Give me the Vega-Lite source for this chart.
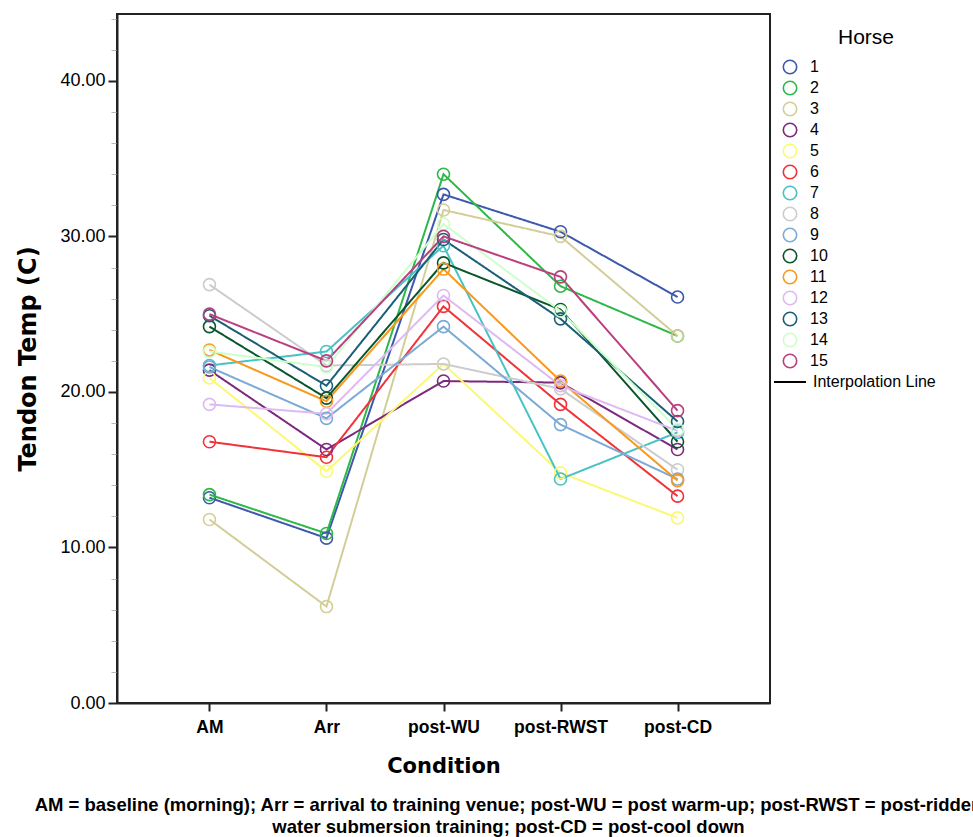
{
  "$schema": "https://vega.github.io/schema/vega-lite/v6.json",
  "width": 653,
  "height": 689,
  "autosize": "none",
  "padding": {"left": 117, "top": 14, "right": 203, "bottom": 134},
  "background": "white",
  "config": {
    "font": "Liberation Sans",
    "view": {"stroke": "#222222", "strokeWidth": 2},
    "axis": {"domainColor": "#222222", "domainWidth": 2, "tickColor": "#222222", "labelColor": "black", "titleColor": "black", "grid": false}
  },
  "title": {
    "text": ["AM = baseline (morning); Arr = arrival to training venue; post-WU = post warm-up; post-RWST = post-ridden", "water submersion training; post-CD = post-cool down"],
    "orient": "bottom",
    "anchor": "middle",
    "frame": "group",
    "font": "Liberation Sans",
    "fontSize": 18.5,
    "fontWeight": "bold",
    "color": "black",
    "dx": 65,
    "offset": 19,
    "lineHeight": 22
  },
  "data": {
    "values": [
      {"horse": "1", "condition": "AM", "temp": 13.2}, {"horse": "1", "condition": "Arr", "temp": 10.6}, {"horse": "1", "condition": "post-WU", "temp": 32.7}, {"horse": "1", "condition": "post-RWST", "temp": 30.3}, {"horse": "1", "condition": "post-CD", "temp": 26.1},
      {"horse": "2", "condition": "AM", "temp": 13.4}, {"horse": "2", "condition": "Arr", "temp": 10.9}, {"horse": "2", "condition": "post-WU", "temp": 34.0}, {"horse": "2", "condition": "post-RWST", "temp": 26.8}, {"horse": "2", "condition": "post-CD", "temp": 23.6},
      {"horse": "3", "condition": "AM", "temp": 11.8}, {"horse": "3", "condition": "Arr", "temp": 6.2}, {"horse": "3", "condition": "post-WU", "temp": 31.7}, {"horse": "3", "condition": "post-RWST", "temp": 30.0}, {"horse": "3", "condition": "post-CD", "temp": 23.6},
      {"horse": "4", "condition": "AM", "temp": 21.4}, {"horse": "4", "condition": "Arr", "temp": 16.3}, {"horse": "4", "condition": "post-WU", "temp": 20.7}, {"horse": "4", "condition": "post-RWST", "temp": 20.6}, {"horse": "4", "condition": "post-CD", "temp": 16.3},
      {"horse": "5", "condition": "AM", "temp": 20.9}, {"horse": "5", "condition": "Arr", "temp": 14.9}, {"horse": "5", "condition": "post-WU", "temp": 21.8}, {"horse": "5", "condition": "post-RWST", "temp": 14.8}, {"horse": "5", "condition": "post-CD", "temp": 11.9},
      {"horse": "6", "condition": "AM", "temp": 16.8}, {"horse": "6", "condition": "Arr", "temp": 15.8}, {"horse": "6", "condition": "post-WU", "temp": 25.5}, {"horse": "6", "condition": "post-RWST", "temp": 19.2}, {"horse": "6", "condition": "post-CD", "temp": 13.3},
      {"horse": "7", "condition": "AM", "temp": 21.7}, {"horse": "7", "condition": "Arr", "temp": 22.6}, {"horse": "7", "condition": "post-WU", "temp": 29.4}, {"horse": "7", "condition": "post-RWST", "temp": 14.4}, {"horse": "7", "condition": "post-CD", "temp": 17.4},
      {"horse": "8", "condition": "AM", "temp": 26.9}, {"horse": "8", "condition": "Arr", "temp": 21.7}, {"horse": "8", "condition": "post-WU", "temp": 21.8}, {"horse": "8", "condition": "post-RWST", "temp": 20.2}, {"horse": "8", "condition": "post-CD", "temp": 15.0},
      {"horse": "9", "condition": "AM", "temp": 21.6}, {"horse": "9", "condition": "Arr", "temp": 18.3}, {"horse": "9", "condition": "post-WU", "temp": 24.2}, {"horse": "9", "condition": "post-RWST", "temp": 17.9}, {"horse": "9", "condition": "post-CD", "temp": 14.4},
      {"horse": "10", "condition": "AM", "temp": 24.2}, {"horse": "10", "condition": "Arr", "temp": 19.6}, {"horse": "10", "condition": "post-WU", "temp": 28.3}, {"horse": "10", "condition": "post-RWST", "temp": 25.3}, {"horse": "10", "condition": "post-CD", "temp": 16.8},
      {"horse": "11", "condition": "AM", "temp": 22.7}, {"horse": "11", "condition": "Arr", "temp": 19.4}, {"horse": "11", "condition": "post-WU", "temp": 27.9}, {"horse": "11", "condition": "post-RWST", "temp": 20.7}, {"horse": "11", "condition": "post-CD", "temp": 14.3},
      {"horse": "12", "condition": "AM", "temp": 19.2}, {"horse": "12", "condition": "Arr", "temp": 18.6}, {"horse": "12", "condition": "post-WU", "temp": 26.2}, {"horse": "12", "condition": "post-RWST", "temp": 20.4}, {"horse": "12", "condition": "post-CD", "temp": 17.5},
      {"horse": "13", "condition": "AM", "temp": 24.9}, {"horse": "13", "condition": "Arr", "temp": 20.4}, {"horse": "13", "condition": "post-WU", "temp": 29.8}, {"horse": "13", "condition": "post-RWST", "temp": 24.7}, {"horse": "13", "condition": "post-CD", "temp": 18.1},
      {"horse": "14", "condition": "AM", "temp": 22.6}, {"horse": "14", "condition": "Arr", "temp": 21.6}, {"horse": "14", "condition": "post-WU", "temp": 30.8}, {"horse": "14", "condition": "post-RWST", "temp": 25.2}, {"horse": "14", "condition": "post-CD", "temp": 17.6},
      {"horse": "15", "condition": "AM", "temp": 25.0}, {"horse": "15", "condition": "Arr", "temp": 22.0}, {"horse": "15", "condition": "post-WU", "temp": 30.0}, {"horse": "15", "condition": "post-RWST", "temp": 27.4}, {"horse": "15", "condition": "post-CD", "temp": 18.8}
    ]
  },
  "encoding": {
    "x": {
      "field": "condition",
      "type": "ordinal",
      "sort": ["AM", "Arr", "post-WU", "post-RWST", "post-CD"],
      "scale": {"type": "point", "padding": 0.79},
      "axis": {"title": "Condition", "titleFont": "DejaVu Sans", "titleFontSize": 21, "titleFontWeight": "bold", "titlePadding": 20, "labelFontSize": 17.5, "labelFontWeight": "bold", "labelAngle": 0, "tickSize": 8, "tickWidth": 2, "labelPadding": 7}
    },
    "y": {
      "field": "temp",
      "type": "quantitative",
      "scale": {"domain": [0, 44.3], "nice": false, "zero": true},
      "axis": {
        "title": "Tendon Temp (C)",
        "titleFont": "DejaVu Sans",
        "titleFontSize": 24,
        "titleFontWeight": "bold",
        "titlePadding": 19,
        "values": [0, 2, 4, 6, 8, 10, 12, 14, 16, 18, 20, 22, 24, 26, 28, 30, 32, 34, 36, 38, 40, 42, 44],
        "labelExpr": "datum.value % 10 === 0 ? format(datum.value, '.2f') : ''",
        "labelFontSize": 18,
        "labelPadding": 3,
        "tickSize": {"condition": {"test": "datum.value % 10 === 0", "value": 9}, "value": 6},
        "tickColor": {"condition": {"test": "datum.value % 10 === 0", "value": "#222222"}, "value": "#bbbbbb"},
        "tickWidth": {"condition": {"test": "datum.value % 10 === 0", "value": 2}, "value": 1}
      }
    },
    "color": {
      "field": "horse",
      "type": "nominal",
      "scale": {
        "domain": ["1", "2", "3", "4", "5", "6", "7", "8", "9", "10", "11", "12", "13", "14", "15"],
        "range": ["#3E58AC", "#2EB848", "#D3CE97", "#7C287D", "#FBF873", "#EF3338", "#48C2C5", "#CCCCCC", "#7AAAD5", "#0A562C", "#F8981D", "#DDBAF1", "#1A5F76", "#CCFFCC", "#BB3F7F"]
      },
      "legend": {
        "title": "Horse",
        "orient": "none",
        "legendX": 665,
        "legendY": 13,
        "titleFontSize": 21,
        "titleFontWeight": "normal",
        "titleColor": "black",
        "titlePadding": 11,
        "labelFontSize": 16,
        "labelColor": "black",
        "symbolType": "circle",
        "symbolFillColor": "white",
        "symbolStrokeWidth": 1.6,
        "symbolSize": 180,
        "rowPadding": 1,
        "labelOffset": 12,
        "encode": {"title": {"update": {"dx": {"value": 56}}}}
      }
    }
  },
  "layer": [
    {
      "mark": {"type": "line", "strokeWidth": 2},
      "encoding": {
        "strokeDash": {
          "datum": "Interpolation Line",
          "type": "nominal",
          "scale": {"range": [[1, 0]]},
          "legend": {
            "title": null,
            "orient": "none",
            "legendX": 656,
            "legendY": 351,
            "symbolType": "stroke",
            "symbolStrokeColor": "black",
            "symbolStrokeWidth": 2,
            "symbolSize": 1024,
            "labelFontSize": 16,
            "labelColor": "black",
            "labelOffset": 6
          }
        }
      }
    },
    {
      "mark": {"type": "point", "shape": "circle", "filled": false, "size": 144, "strokeWidth": 1.6, "opacity": 1}
    }
  ]
}
